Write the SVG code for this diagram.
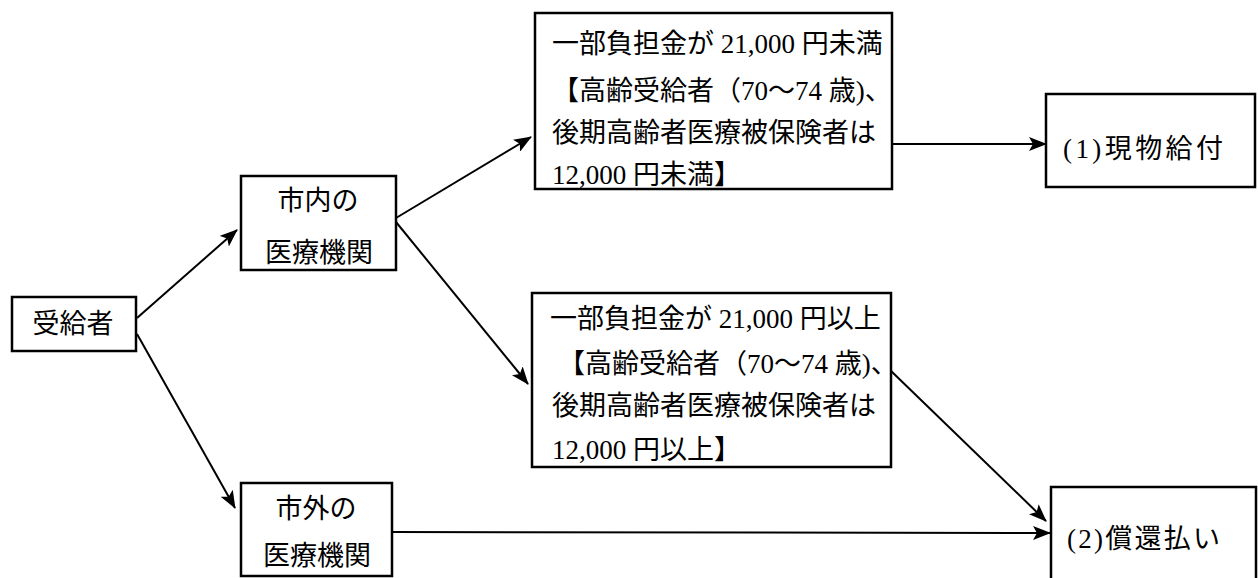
<svg xmlns="http://www.w3.org/2000/svg" width="1258" height="578" viewBox="0 0 1258 578">
<style>
.box{fill:#fff;stroke:#000;stroke-width:2.5}
.t{font-family:'Liberation Serif','Noto Sans CJK JP',serif;font-size:27px;fill:#000}
.c{text-anchor:middle}
.ln{stroke:#000;stroke-width:2;fill:none}
</style>
<defs>
<marker id="ah" markerUnits="userSpaceOnUse" markerWidth="18" markerHeight="14" refX="17" refY="7" orient="auto">
<path d="M0,0 L18,7 L0,14 L4,7 Z" fill="#000"/>
</marker>
</defs>
<rect width="1258" height="578" fill="#fff"/>
<g id="connectors">
<line class="ln" x1="137" y1="318" x2="237" y2="230" marker-end="url(#ah)"/>
<line class="ln" x1="137" y1="334" x2="235" y2="508" marker-end="url(#ah)"/>
<line class="ln" x1="396" y1="218" x2="531" y2="137" marker-end="url(#ah)"/>
<line class="ln" x1="396" y1="222" x2="528" y2="384" marker-end="url(#ah)"/>
<line class="ln" x1="892" y1="144" x2="1046" y2="144" marker-end="url(#ah)"/>
<line class="ln" x1="890" y1="370" x2="1046" y2="521" marker-end="url(#ah)"/>
<line class="ln" x1="392" y1="532" x2="1050" y2="533" marker-end="url(#ah)"/>
</g>
<g id="recipient">
<rect class="box" x="12" y="297" width="124" height="54"/>
<text class="t c" x="73" y="333">受給者</text>
</g>
<g id="inside">
<rect class="box" x="241" y="176" width="155" height="94"/>
<text class="t c" x="318" y="210">市内の</text>
<text class="t c" x="319" y="262">医療機関</text>
</g>
<g id="outside">
<rect class="box" x="241" y="483" width="151" height="93"/>
<text class="t c" x="316" y="518">市外の</text>
<text class="t c" x="317" y="565">医療機関</text>
</g>
<g id="under">
<rect class="box" x="535" y="13" width="357" height="176"/>
<text class="t" x="552" y="53">一部負担金が 21,000 円未満</text>
<text class="t" x="552" y="100">【高齢受給者（70～74 歳)、</text>
<text class="t" x="552" y="142">後期高齢者医療被保険者は</text>
<text class="t" x="552" y="184">12,000 円未満】</text>
</g>
<g id="over">
<rect class="box" x="532" y="293" width="359" height="174"/>
<text class="t" x="550" y="328">一部負担金が 21,000 円以上</text>
<text class="t" x="558" y="373">【高齢受給者（70～74 歳)、</text>
<text class="t" x="552" y="415">後期高齢者医療被保険者は</text>
<text class="t" x="552" y="459">12,000 円以上】</text>
</g>
<g id="inkind">
<rect class="box" x="1046" y="94" width="209" height="93"/>
<text class="t" x="1063" y="158" textLength="160" lengthAdjust="spacing">(1)現物給付</text>
</g>
<g id="refund">
<rect class="box" x="1051" y="487" width="205" height="110"/>
<text class="t" x="1067" y="548" textLength="153" lengthAdjust="spacing">(2)償還払い</text>
</g>
</svg>
